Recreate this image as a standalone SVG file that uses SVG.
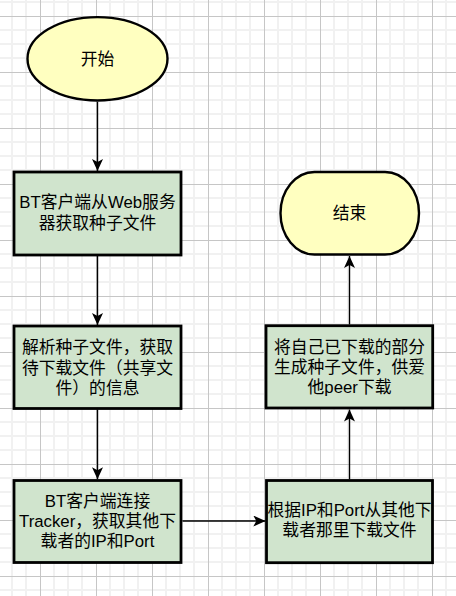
<svg xmlns="http://www.w3.org/2000/svg" width="456" height="596" viewBox="0 0 456 596">
  <style>
    .node-box { fill: #d0e4cd; stroke: #000; stroke-width: 2.8; }
    .node-term { fill: #ffffc0; stroke: #000; stroke-width: 2.4; }
    .label { font-family: "Liberation Sans", "Noto Sans CJK SC", sans-serif; font-size: 16.8px; fill: #000; text-anchor: middle; }
    .edge { fill: none; stroke: #000; stroke-width: 1.4; }
  </style>
  <defs>
    <pattern id="grid" x="40" y="16" width="56" height="56" patternUnits="userSpaceOnUse">
      <path d="M14 0V56 M28 0V56 M42 0V56 M0 14H56 M0 28H56 M0 42H56" stroke="#f1f1f1" stroke-width="2" fill="none"/>
      <path d="M0.5 0V56 M0 0.5H56" stroke="#c6c6c6" stroke-width="1" fill="none"/>
    </pattern>
    <marker id="arrow" viewBox="0 0 12 11" refX="12" refY="5.5" markerWidth="12" markerHeight="11" markerUnits="userSpaceOnUse" orient="auto">
      <path d="M0 0 L12 5.5 L0 11 L3 5.5 Z" fill="#000"/>
    </marker>
  </defs>
  <rect x="0" y="0" width="456" height="596" fill="#ffffff"/>
  <rect x="0" y="0" width="456" height="596" fill="url(#grid)"/>

  <g id="connectors">
    <path class="edge" d="M97.5 101.7 V171" marker-end="url(#arrow)"/>
    <path class="edge" d="M97.5 256 V325" marker-end="url(#arrow)"/>
    <path class="edge" d="M97.5 409.5 V479.3" marker-end="url(#arrow)"/>
    <path class="edge" d="M182.5 521 H265.3" marker-end="url(#arrow)"/>
    <path class="edge" d="M349.5 479.3 V409.5" marker-end="url(#arrow)"/>
    <path class="edge" d="M349.5 324.5 V256" marker-end="url(#arrow)"/>
  </g>

  <g id="start">
    <ellipse class="node-term" cx="97.5" cy="58.8" rx="70" ry="41.7"/>
    <text class="label" x="97.5" y="65">开始</text>
  </g>

  <g id="step1">
    <rect class="node-box" x="14" y="172" width="167" height="83"/>
    <text class="label" x="97.5" y="208">BT客户端从Web服务</text>
    <text class="label" x="97.5" y="228.7">器获取种子文件</text>
  </g>

  <g id="step2">
    <rect class="node-box" x="14" y="326" width="167" height="82.5"/>
    <text class="label" x="97.5" y="352.7">解析种子文件，获取</text>
    <text class="label" x="97.5" y="373.5">待下载文件（共享文</text>
    <text class="label" x="97.5" y="394.3">件）的信息</text>
  </g>

  <g id="step3">
    <rect class="node-box" x="14" y="480.5" width="167" height="82"/>
    <text class="label" x="97.5" y="507">BT客户端连接</text>
    <text class="label" x="97.5" y="526.8">Tracker，获取其他下</text>
    <text class="label" x="97.5" y="546.7">载者的IP和Port</text>
  </g>

  <g id="step4">
    <rect class="node-box" x="266.5" y="480.5" width="166" height="82.2"/>
    <text class="label" x="349.5" y="516">根据IP和Port从其他下</text>
    <text class="label" x="349.5" y="536">载者那里下载文件</text>
  </g>

  <g id="step5">
    <rect class="node-box" x="266" y="325.7" width="166.7" height="82.3"/>
    <text class="label" x="349.5" y="352.7">将自己已下载的部分</text>
    <text class="label" x="349.5" y="373.3">生成种子文件，供爱</text>
    <text class="label" x="349.5" y="393.3">他peer下载</text>
  </g>

  <g id="end">
    <rect class="node-term" x="280.5" y="172" width="138.5" height="82.5" rx="34" ry="41.25"/>
    <text class="label" x="349.5" y="219">结束</text>
  </g>
</svg>
